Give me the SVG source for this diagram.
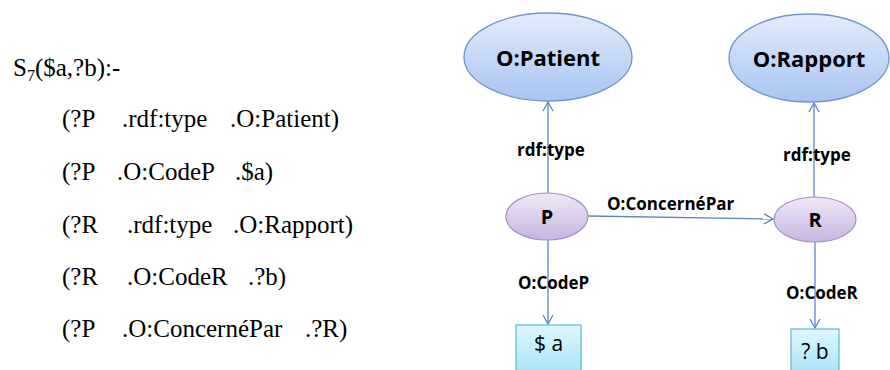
<svg xmlns="http://www.w3.org/2000/svg" width="890" height="370" viewBox="0 0 890 370">
<style>
.q{font-family:"Liberation Serif","Times New Roman",serif;font-size:25px;fill:#000}
.n{font-family:"Open Sans","Liberation Sans",sans-serif;font-weight:bold;fill:#000;text-anchor:middle}
.l{font-family:"Open Sans","Liberation Sans",sans-serif;font-weight:bold;font-size:17px;fill:#000}
.c{stroke:#5b86c4;stroke-width:1.3;fill:none}
.t{font-family:"Open Sans","Liberation Sans",sans-serif;font-size:21px;fill:#000;text-anchor:middle}
</style>
<defs>
<linearGradient id="gb" x1="0" y1="0" x2="0" y2="1"><stop offset="0" stop-color="#e3ecfb"/><stop offset="1" stop-color="#a8c4f2"/></linearGradient>
<linearGradient id="gp" x1="0" y1="0" x2="0" y2="1"><stop offset="0" stop-color="#f0e9f7"/><stop offset="1" stop-color="#c6b5e0"/></linearGradient>
<linearGradient id="gc" x1="0" y1="0" x2="0" y2="1"><stop offset="0" stop-color="#e0f7fd"/><stop offset="1" stop-color="#a6e2f6"/></linearGradient>
<marker id="ah" markerWidth="12" markerHeight="12" refX="10" refY="6" orient="auto" markerUnits="userSpaceOnUse">
<polyline points="1,1 10,6 1,11" fill="none" stroke="#5b86c4" stroke-width="1.3"/>
</marker>
</defs>
<g id="query">
<text class="q" x="13" y="76">S<tspan font-size="16" dy="5">7</tspan><tspan dy="-5">($a,?b):-</tspan></text>
<text class="q" y="127"><tspan x="62">(?P</tspan><tspan x="122">.rdf:type</tspan><tspan x="230">.O:Patient)</tspan></text>
<text class="q" y="180"><tspan x="62">(?P</tspan><tspan x="117">.O:CodeP</tspan><tspan x="235">.$a)</tspan></text>
<text class="q" y="233"><tspan x="62">(?R</tspan><tspan x="127">.rdf:type</tspan><tspan x="233">.O:Rapport)</tspan></text>
<text class="q" y="285"><tspan x="62">(?R</tspan><tspan x="127">.O:CodeR</tspan><tspan x="248">.?b)</tspan></text>
<text class="q" y="337"><tspan x="62">(?P</tspan><tspan x="122">.O:ConcernéPar</tspan><tspan x="305">.?R)</tspan></text>
</g>
<g id="connectors">
<line class="c" x1="548" y1="193" x2="548" y2="102" marker-end="url(#ah)"/>
<line class="c" x1="814" y1="197" x2="814" y2="103" marker-end="url(#ah)"/>
<line class="c" x1="588" y1="216" x2="773" y2="219" marker-end="url(#ah)"/>
<line class="c" x1="548" y1="240" x2="548" y2="324" marker-end="url(#ah)"/>
<line class="c" x1="815" y1="242" x2="815" y2="328" marker-end="url(#ah)"/>
<text class="l" x="517" y="156">rdf:type</text>
<text class="l" x="783" y="161">rdf:type</text>
<text class="l" x="607" y="210">O:ConcernéPar</text>
<text class="l" x="518" y="289">O:CodeP</text>
<text class="l" x="786" y="299">O:CodeR</text>
</g>
<g id="patient">
<ellipse cx="548" cy="57" rx="84" ry="44" fill="url(#gb)" stroke="#7096cc" stroke-width="1.3"/>
<text class="n" x="548" y="66" font-size="22">O:Patient</text>
</g>
<g id="rapport">
<ellipse cx="809" cy="58" rx="80" ry="44" fill="url(#gb)" stroke="#7096cc" stroke-width="1.3"/>
<text class="n" x="809" y="67" font-size="22">O:Rapport</text>
</g>
<g id="P">
<ellipse cx="547" cy="216.5" rx="41" ry="23.5" fill="url(#gp)" stroke="#a28fca" stroke-width="1.2"/>
<text class="n" x="547" y="223.5" font-size="20">P</text>
</g>
<g id="R">
<ellipse cx="815" cy="219.5" rx="41" ry="22.5" fill="url(#gp)" stroke="#a28fca" stroke-width="1.2"/>
<text class="n" x="815" y="226.5" font-size="20">R</text>
</g>
<g id="a">
<rect x="516" y="325" width="65" height="50" fill="url(#gc)" stroke="#5db6d3" stroke-width="1.2"/>
<text class="t" x="548.5" y="351">$ a</text>
</g>
<g id="b">
<rect x="791" y="329" width="48" height="46" fill="url(#gc)" stroke="#5db6d3" stroke-width="1.2"/>
<text class="t" x="815" y="359">? b</text>
</g>
</svg>
